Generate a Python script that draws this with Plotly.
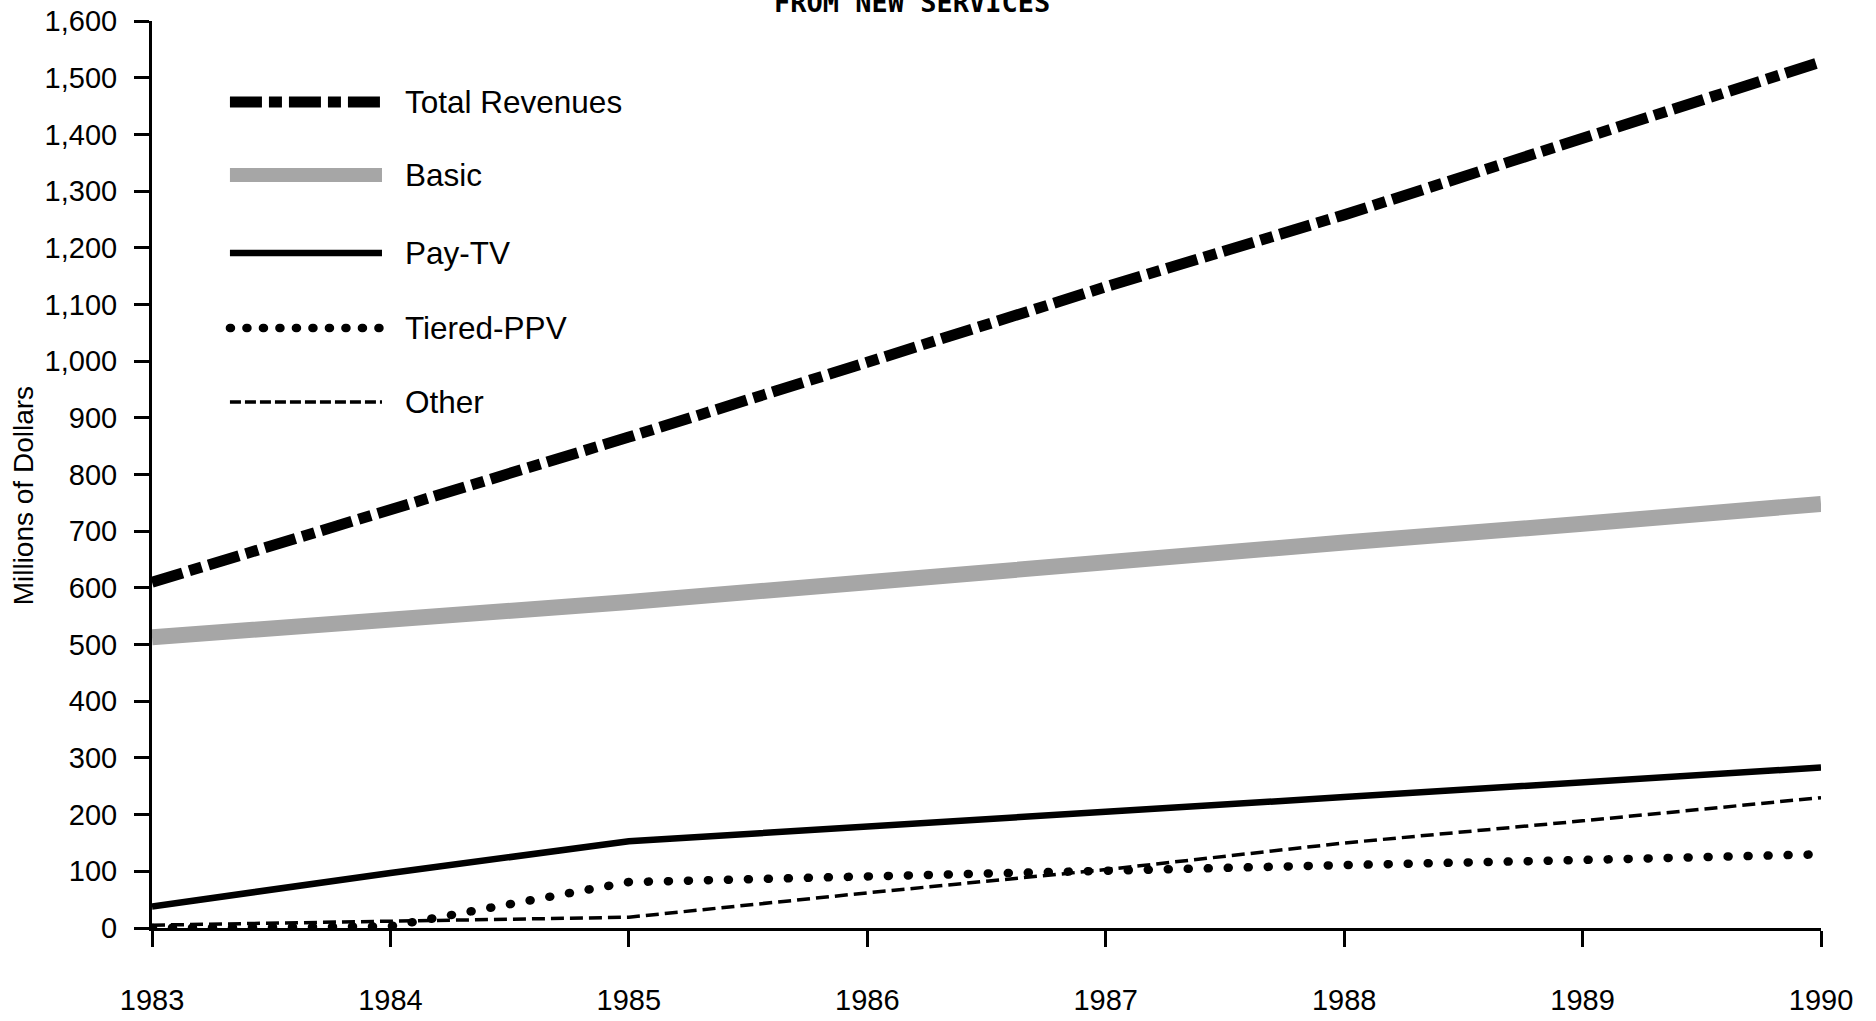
import plotly.graph_objects as go

# ---- data ----
years = [1983, 1984, 1985, 1986, 1987, 1988, 1989, 1990]
year_labels = [str(y) for y in years]
total_revenues = [610, 737, 866, 998, 1131, 1258, 1395, 1528]
basic = [513, 542, 575, 610, 648, 680, 713, 748]
pay_tv = [38, 97, 153, 180, 205, 231, 256, 283]
tiered_ppv = [0, 3, 81, 92, 102, 111, 120, 130]
other = [5, 12, 19, 62, 103, 150, 189, 230]

series_names = ["Total Revenues", "Basic", "Pay-TV", "Tiered-PPV", "Other"]
series_values = [total_revenues, basic, pay_tv, tiered_ppv, other]

# ---- styles ----
styles = {
    "Total Revenues": dict(color="black", width=11, dash="32px,7px,13px,7px"),
    "Basic": dict(color="#a6a6a6", width=16, dash="solid"),
    "Pay-TV": dict(color="black", width=6.5, dash="solid"),
    "Tiered-PPV": dict(color="black", width=8.5, dash="1px,19px"),
    "Other": dict(color="black", width=3.5, dash="13px,6px"),
}
legend_styles = {
    "Total Revenues": dict(color="black", width=11, dash="32px,7px,13px,7px"),
    "Basic": dict(color="#a6a6a6", width=14, dash="solid"),
    "Pay-TV": dict(color="black", width=6.5, dash="solid"),
    "Tiered-PPV": dict(color="black", width=8.5, dash="1px,15.5px"),
    "Other": dict(color="black", width=3.5, dash="11px,4px"),
}

fig = go.Figure()
# draw lower series first, total on top
for name in ["Basic", "Other", "Tiered-PPV", "Pay-TV", "Total Revenues"]:
    vals = series_values[series_names.index(name)]
    fig.add_trace(go.Scatter(
        x=years, y=vals, mode="lines", name=name,
        line=styles[name], showlegend=False, hoverinfo="x+y+name",
    ))

# ---- manual legend (sample line + label) ----
legend_rows_y = [0.9107, 0.8302, 0.7442, 0.6615, 0.5799]
for name, ly in zip(series_names, legend_rows_y):
    fig.add_shape(type="line", xref="paper", yref="paper",
                  x0=0.0467, x1=0.1378, y0=ly, y1=ly,
                  line=legend_styles[name])
    fig.add_annotation(text=name, xref="paper", yref="paper",
                       x=0.1505, y=ly, xanchor="left", yanchor="middle",
                       showarrow=False,
                       font=dict(family="Liberation Sans, Arial, sans-serif",
                                 size=31.5, color="black"))

# ---- title at top (partly cut off in the reference) ----
fig.add_annotation(text="<b>FROM NEW SERVICES</b>", xref="paper", yref="paper",
                   x=0.4553, y=1.0205, xanchor="center", yanchor="middle",
                   showarrow=False,
                   font=dict(family="DejaVu Sans Mono, monospace", size=27,
                             color="black"))

# ---- y axis title ----
fig.add_annotation(text="Millions of Dollars", xref="paper", yref="paper",
                   x=-0.0773, y=0.477, xanchor="center", yanchor="middle",
                   textangle=-90, showarrow=False,
                   font=dict(family="Liberation Sans, Arial, sans-serif",
                             size=28, color="black"))

tick_font = dict(family="Liberation Sans, Arial, sans-serif", size=29,
                 color="black")

fig.update_layout(
    width=1876, height=1021,
    margin=dict(l=152, r=55, t=21, b=93, autoexpand=False),
    plot_bgcolor="white", paper_bgcolor="white",
    showlegend=False,
    xaxis=dict(range=[1983, 1990], tickmode="array", tickvals=years,
               ticktext=year_labels, showline=True, linecolor="black",
               linewidth=3, ticks="outside", ticklen=16, tickwidth=3,
               tickcolor="black", showgrid=False, zeroline=False,
               tickfont=tick_font, ticklabelstandoff=28, automargin=False),
    yaxis=dict(range=[0, 1600], tickmode="linear", tick0=0, dtick=100,
               tickformat=",d", showline=True, linecolor="black",
               linewidth=3, ticks="outside", ticklen=15, tickwidth=3,
               tickcolor="black", showgrid=False, zeroline=False,
               tickfont=tick_font, ticklabelstandoff=11, automargin=False),
)

post_script = """
var gd = document.getElementById('{plot_id}');
function roundDots(){
  gd.querySelectorAll('path').forEach(function(p){
    var d = (p.style.strokeDasharray || p.getAttribute('stroke-dasharray') || '').replace(/\\s/g,'');
    if (d.indexOf('1px,') === 0) { p.style.strokeLinecap = 'round'; }
  });
}
roundDots();
gd.on('plotly_afterplot', roundDots);
"""

fig.write_html("out.html", post_script=post_script)
